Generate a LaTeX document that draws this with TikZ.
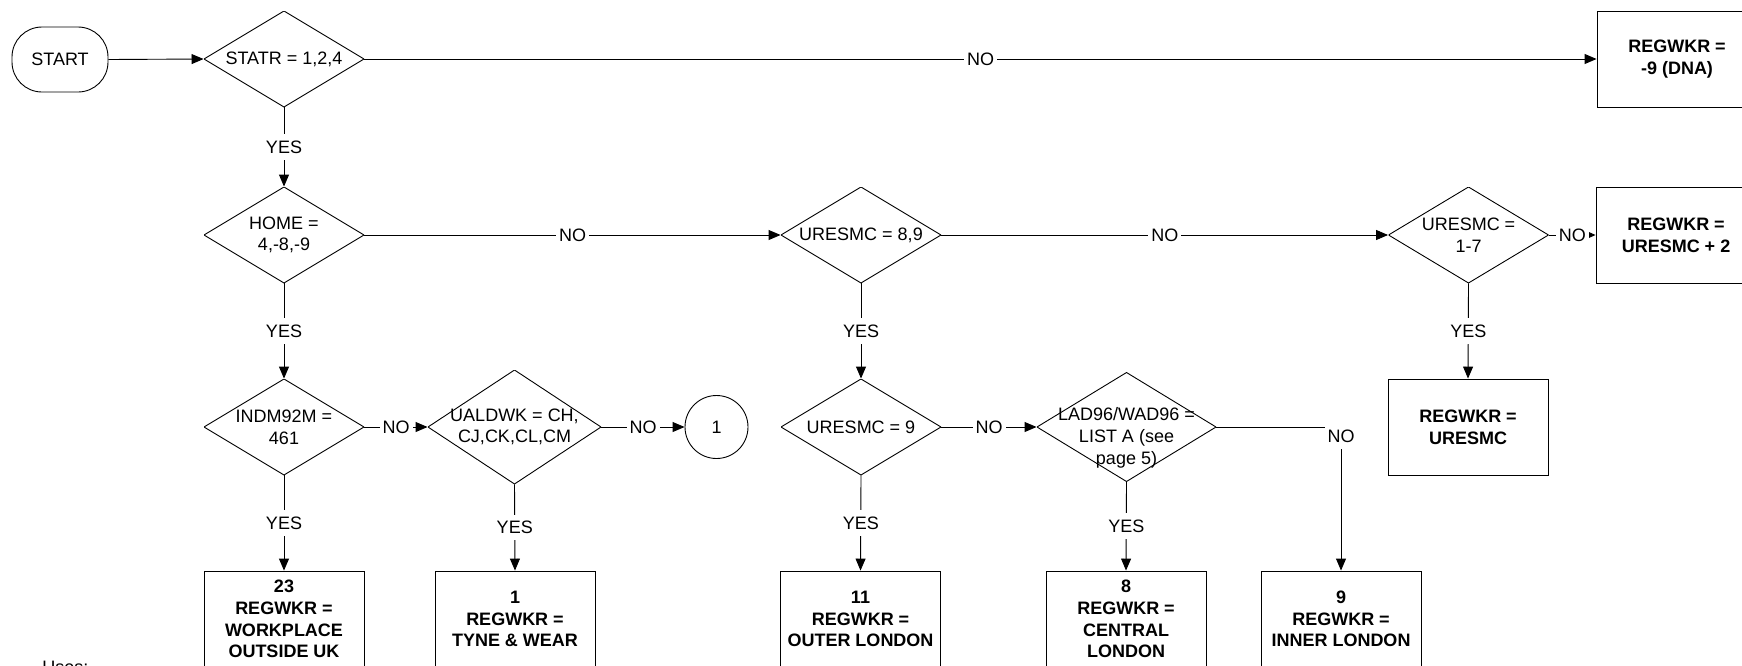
\documentclass[tikz,border=0pt]{standalone}
\usepackage{fontspec}
\setmainfont{Liberation Sans}
\usetikzlibrary{arrows.meta}
\begin{document}
\begin{tikzpicture}[x=1pt,y=-1pt,
  line width=0.9pt,
  every node/.style={font=\fontsize{18}{21.7}\selectfont, inner sep=0pt},
  dia/.style 2 args={minimum width=#1pt, minimum height=#2pt, align=center,
    path picture={\draw[line width=0.9pt] (path picture bounding box.north) -- (path picture bounding box.east) -- (path picture bounding box.south) -- (path picture bounding box.west) -- cycle;}},
  resbox/.style={draw, minimum width=160pt, minimum height=96pt, align=center,
    font=\fontsize{18}{21.7}\selectfont\bfseries},
  term/.style={draw, rounded corners=30pt, minimum width=96pt, minimum height=65pt},
  conn/.style={draw, circle, minimum size=63pt},
  arr/.style={-{Triangle[length=12pt,width=10pt]}},
  arrs/.style={-{Triangle[length=7pt,width=6pt]}},
  lbl/.style={fill=white, inner xsep=3pt, inner ysep=6.5pt}
]
\useasboundingbox (0,0) rectangle (1742,665);

% nodes
\node[term] (start) at (60,59.5) {START};
\node[dia={160}{96}] (statr) at (284,59) {STATR = 1,2,4};
\node[resbox] (dna) at (1677,59) {REGWKR =\\-9 (DNA)};

\node[dia={160}{96}] (home) at (284,235) {HOME =\\4,-8,-9};
\node[dia={160}{96}] (u89) at (861,235) {URESMC = 8,9};
\node[dia={160}{96}] (u17) at (1468.5,235) {URESMC =\\1-7};
\node[resbox] (plus2) at (1676,235) {REGWKR =\\URESMC + 2};

\node[dia={160}{96}] (indm) at (284,427) {INDM92M =\\461};
\node[dia={173}{114}] (ual) at (514.5,427) {UALDWK = CH,\\CJ,CK,CL,CM};
\node[conn] (c1) at (716.5,427) {1};
\node[dia={160}{96}] (u9) at (861,427) {URESMC = 9};
\node[dia={179}{109}] (lad) at (1126.5,427) {};
\node[align=center] (ladtxt) at ([yshift=-11pt]lad.center) {LAD96/WAD96 =\\LIST A (see\\page 5)};
\node[resbox] (ures) at (1468,427) {REGWKR =\\URESMC};

\node[resbox] (b23) at (284,619) {23\\REGWKR =\\WORKPLACE\\OUTSIDE UK};
\node[resbox] (b1) at (515,619) {1\\REGWKR =\\TYNE \& WEAR};
\node[resbox] (b11) at (860.5,619) {11\\REGWKR =\\OUTER LONDON};
\node[resbox] (b8) at (1126,619) {8\\REGWKR =\\CENTRAL\\LONDON};
\node[resbox] (b9) at (1341,619) {9\\REGWKR =\\INNER LONDON};

\node[anchor=north west] (uses) at (42,661) {Uses:};

% connectors
\draw[arr] (start.east) -- (statr.west);
\draw[arr] (statr.east) -- node[lbl]{NO} (dna.west);
\draw[arr] (statr.south) -- node[lbl]{YES} (home.north);
\draw[arr] (home.east) -- node[lbl]{NO} (u89.west);
\draw[arr] (u89.east) -- node[lbl]{NO} (u17.west);
\draw[arrs] (u17.east) -- node[lbl]{NO} (plus2.west);
\draw[arr] (u17.south) -- node[lbl]{YES} (ures.north);
\draw[arr] (home.south) -- node[lbl]{YES} (indm.north);
\draw[arr] (indm.east) -- node[lbl]{NO} (ual.west);
\draw[arr] (ual.east) -- node[lbl]{NO} (c1.west);
\draw[arr] (indm.south) -- node[lbl]{YES} (b23.north);
\draw[arr] (ual.south) -- node[lbl]{YES} (b1.north);
\draw[arr] (u89.south) -- node[lbl]{YES} (u9.north);
\draw[arr] (u9.east) -- node[lbl]{NO} (lad.west);
\draw[arr] (u9.south) -- node[lbl]{YES} (b11.north);
\draw[arr] (lad.south) -- node[lbl]{YES} (b8.north);
\draw[arr] (lad.east) -| node[lbl, pos=0.5, yshift=-9pt]{NO} (b9.north);
\end{tikzpicture}
\end{document}
